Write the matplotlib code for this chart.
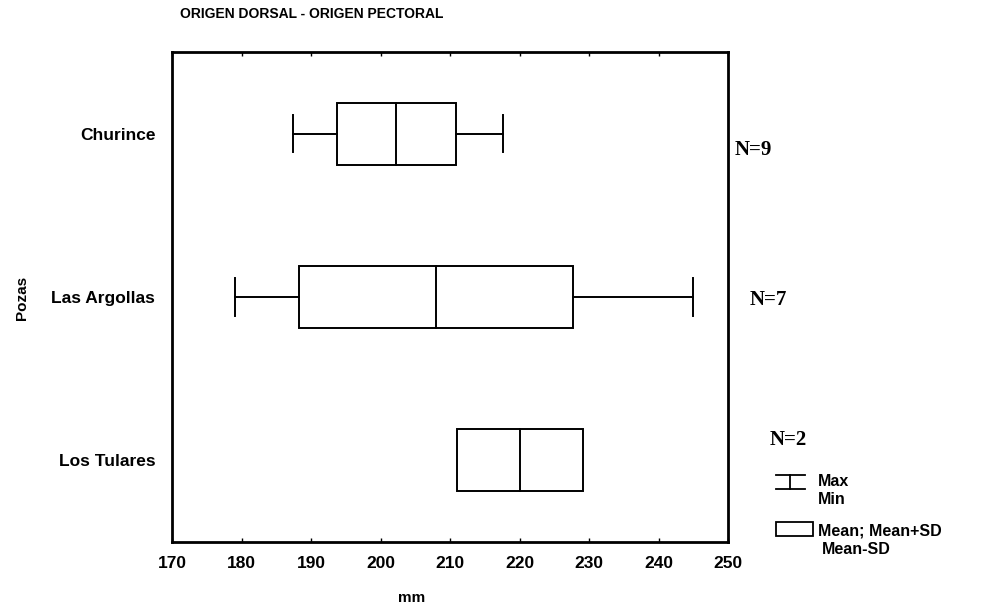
import matplotlib
matplotlib.use("Agg")
import matplotlib.pyplot as plt
from matplotlib.patches import Rectangle
import numpy as np

# Summary statistics per pool (mm)
groups = ["Churince", "Las Argollas", "Los Tulares"]
means = [202.3, 208.0, 220.1]
sds = [8.6, 19.7, 9.1]
mins = [187.4, 179.1, np.nan]
maxs = [217.6, 245.0, np.nan]
n_labels = ["N=9", "N=7", "N=2"]
xticks = [170, 180, 190, 200, 210, 220, 230, 240, 250]

plt.rcParams["font.family"] = ["Liberation Sans", "DejaVu Sans"]

W, H = 984, 606
fig = plt.figure(figsize=(W / 100, H / 100), dpi=100)
fig.patch.set_facecolor("white")

ax = fig.add_axes([172 / W, (H - 542) / H, 556 / W, 490 / H])
ax.set_xlim(170, 250)
ax.set_ylim(2.5, -0.5)

box_h = 0.38
cap_h = 0.23
lw = 1.4
for i, (m, s, lo, hi) in enumerate(zip(means, sds, mins, maxs)):
    left, right = m - s, m + s
    ax.add_patch(Rectangle((left, i - box_h / 2), right - left, box_h,
                           fill=False, edgecolor="black", linewidth=lw))
    ax.plot([m, m], [i - box_h / 2, i + box_h / 2], color="black", lw=lw)
    if np.isfinite(lo) and lo < left:
        ax.plot([lo, left], [i, i], color="black", lw=lw)
        ax.plot([lo, lo], [i - cap_h / 2, i + cap_h / 2], color="black", lw=lw)
    if np.isfinite(hi) and hi > right:
        ax.plot([right, hi], [i, i], color="black", lw=lw)
        ax.plot([hi, hi], [i - cap_h / 2, i + cap_h / 2], color="black", lw=lw)

ax.set_xticks(xticks)
ax.set_xticklabels([str(t) for t in xticks], fontsize=12.5, fontweight="bold")
ax.set_yticks(range(len(groups)))
ax.set_yticklabels(groups, fontsize=12.5, fontweight="bold")
ax.tick_params(axis="x", direction="in", length=3, width=1, top=True, pad=10)
ax.tick_params(axis="y", length=0, pad=12)
for sp in ax.spines.values():
    sp.set_linewidth(2.0)

# Overlay in pixel coordinates for the surrounding annotations
ov = fig.add_axes([0, 0, 1, 1], facecolor="none")
ov.set_xlim(0, W)
ov.set_ylim(H, 0)
ov.axis("off")

ov.text(180, 14, "ORIGEN DORSAL - ORIGEN PECTORAL", fontsize=10,
        fontweight="bold", ha="left", va="center")
ov.text(412, 598, "mm", fontsize=11, fontweight="bold", ha="center", va="center")
ov.text(22, 298, "Pozas", fontsize=11, fontweight="bold", rotation=90,
        ha="center", va="center")

n_pos = [(735, 150), (750, 300), (770, 440)]
for lab, (x, y) in zip(n_labels, n_pos):
    ov.text(x, y, lab, family="Liberation Serif", fontsize=15,
            fontweight="bold", ha="left", va="center")

# Legend: whisker glyph and box glyph
ov.plot([776, 805], [475, 475], color="black", lw=1.3)
ov.plot([776, 805], [489, 489], color="black", lw=1.3)
ov.plot([790, 790], [475, 489], color="black", lw=1.3)
ov.text(818, 481, "Max", fontsize=11.5, fontweight="bold", ha="left", va="center")
ov.text(818, 500, "Min", fontsize=11.5, fontweight="bold", ha="left", va="center")
ov.add_patch(Rectangle((776, 522), 37, 14, fill=False, edgecolor="black", lw=1.3))
ov.text(818, 531, "Mean; Mean+SD", fontsize=11.5, fontweight="bold",
        ha="left", va="center")
ov.text(822, 550, "Mean-SD", fontsize=11.5, fontweight="bold", ha="left", va="center")

fig.savefig("out.png", dpi=100, facecolor="white")
